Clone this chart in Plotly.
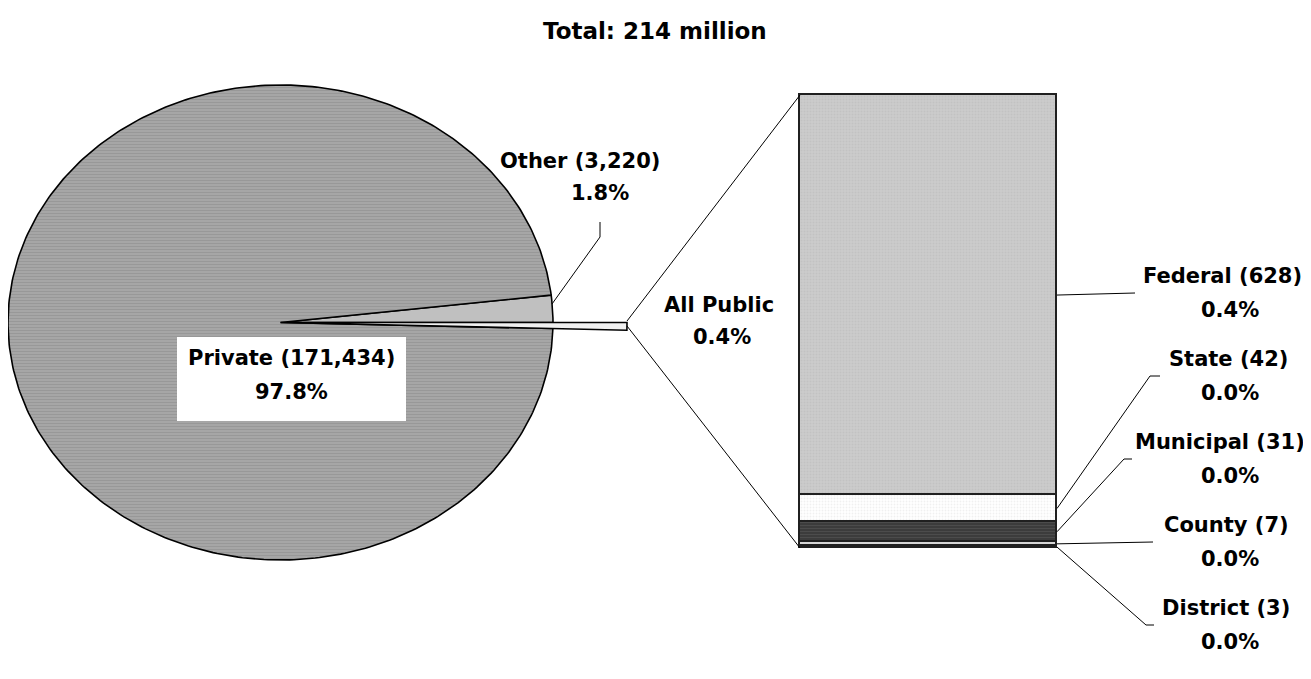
import numpy as np
import plotly.graph_objects as go

# ---------------- data ----------------
pie_names = ["Other", "Private", "All Public"]
pie_values = [3220, 171434, 711]          # thousands
bar_names = ["Federal", "State", "Municipal", "County", "District"]
bar_values = [628, 42, 31, 7, 3]
title_text = "Total: 214 million"

W, H = 1311, 679
OFF = 8           # page body margin in the browser
FONT = "DejaVu Sans"
FS = 21


def px(x, y):
    return (x - OFF) / W, 1 - (y - OFF) / H


# pie geometry (pixels): ellipse centre and radii
CX, CY, RX, RY = 280.5, 322.5, 272.5, 237.5
cxp, cyp = CX - OFF, CY - OFF
PIE_X_DOM = [0, 700 / W]
x_rng = [(0 - cxp) / RX, (700 - cxp) / RX]
y_rng = [(cyp - H) / RY, (cyp - 0) / RY]

total = sum(pie_values)
fracs = [v / total for v in pie_values]

fig = go.Figure()

styles = {
    "Private": dict(fillcolor="#a4a4a4", fillpattern=dict(shape="-", bgcolor="#a6a6a6", fgcolor="#8a8a8a", size=3, solidity=0.35)),
    "Other": dict(fillcolor="#c0c0c0"),
    "All Public": dict(fillcolor="#f0f0f0"),
}

start = 0.0
for name, f in zip(pie_names, fracs):
    a0 = start * 2 * np.pi
    a1 = (start + f) * 2 * np.pi
    start += f
    r = 1.0
    if name == "All Public":
        r = (627 - CX) / RX
    n = max(4, int(400 * f))
    th = np.linspace(a0, a1, n)
    xs = np.concatenate([[0], r * np.cos(th), [0]])
    ys = np.concatenate([[0], r * np.sin(th), [0]])
    kw = dict(fill="toself", line=dict(color="black", width=1.6))
    st = styles[name]
    if "fillpattern" in st:
        kw["fillpattern"] = st["fillpattern"]
    kw["fillcolor"] = st["fillcolor"]
    fig.add_trace(go.Scatter(x=xs, y=ys, mode="lines", hoverinfo="skip",
                             showlegend=False, xaxis="x", yaxis="y", **kw))

# ---------------- bar (stacked) ----------------
bar_styles = {
    "Federal": dict(color="#cbcbcb", pattern=dict(shape=".", bgcolor="#cbcbcb", fgcolor="#b9b9b9", size=3, solidity=0.3)),
    "State": dict(color="#ffffff", pattern=dict(shape=".", bgcolor="#ffffff", fgcolor="#e2e2e2", size=3, solidity=0.3)),
    "Municipal": dict(color="#404040", pattern=dict(shape="-", bgcolor="#3c3c3c", fgcolor="#5c5c5c", size=3, solidity=0.35)),
    "County": dict(color="#d6d6d6"),
    "District": dict(color="#909090"),
}
for name, v in reversed(list(zip(bar_names, bar_values))):
    st = bar_styles[name]
    marker = dict(color=st["color"], line=dict(color="#202020", width=1.6))
    if "pattern" in st:
        marker["pattern"] = st["pattern"]
    fig.add_trace(go.Bar(x=[0], y=[v], width=1, marker=marker, name=name,
                         showlegend=False, hoverinfo="skip", xaxis="x2", yaxis="y2"))

BX0, BX1, BY0, BY1 = 800, 1057, 95, 548
bar_total = sum(bar_values)
PAD = 3
bw, bh = BX1 - BX0, BY1 - BY0
xpad = PAD / bw
ypad = PAD / bh * bar_total

fig.update_layout(
    width=W, height=H, margin=dict(l=0, r=0, t=0, b=0),
    paper_bgcolor="white", plot_bgcolor="rgba(0,0,0,0)",
    barmode="stack", bargap=0,
    xaxis=dict(domain=PIE_X_DOM, range=x_rng, visible=False, fixedrange=True),
    yaxis=dict(domain=[0, 1], range=y_rng, visible=False, fixedrange=True),
    xaxis2=dict(domain=[(BX0 - OFF - PAD) / W, (BX1 - OFF + PAD) / W], range=[-0.5 - xpad, 0.5 + xpad],
                visible=False, anchor="y2"),
    yaxis2=dict(domain=[1 - (BY1 - OFF + PAD) / H, 1 - (BY0 - OFF - PAD) / H], range=[-ypad, bar_total + ypad],
                visible=False, anchor="x2"),
    font=dict(family=FONT, size=FS, color="black"),
)

shapes = []
annotations = []


def line(x0, y0, x1, y1, w=1):
    a = px(x0, y0)
    b = px(x1, y1)
    shapes.append(dict(type="line", xref="paper", yref="paper", x0=a[0], y0=a[1], x1=b[0], y1=b[1],
                       line=dict(color="black", width=w)))


def text(x, y, s, size=FS):
    p = px(x, y)
    annotations.append(dict(xref="paper", yref="paper", x=p[0], y=p[1], text=f"<b>{s}</b>",
                            showarrow=False, xanchor="center", yanchor="middle",
                            font=dict(family=FONT, size=size, color="black")))


# title
text(655, 31, title_text, 23)

# connectors from exploded slice to bar
line(627, 321, BX0, BY0)
line(627, 326, BX0, BY1)

# Private label with white box
p0 = px(177, 337)
p1 = px(406, 421)
shapes.append(dict(type="rect", xref="paper", yref="paper", x0=p0[0], y0=p1[1], x1=p1[0], y1=p0[1],
                   fillcolor="white", line=dict(width=0), layer="above"))
pct = [100 * f for f in fracs]
text(291, 358, f"{pie_names[1]} ({pie_values[1]:,})")
text(291, 392, f"{pct[1]:.1f}%")

# Other label
text(580, 161, f"{pie_names[0]} ({pie_values[0]:,})")
text(600, 193, f"{pct[0]:.1f}%")
line(600, 222, 600, 237)
line(600, 237, 552, 304)

# All Public label
text(719, 305, pie_names[2])
text(722, 337, f"{pct[2]:.1f}%")

# bar labels
bar_pct = [100 * v / total for v in bar_values]
label_y = [276, 359, 442, 525, 608]
label_x = [1222, 1228, 1220, 1226, 1226]
tick = [(1135, 1135), (1150, 1160), (1124, 1132), (1153, 1153), (1146, 1154)]
cum_below = np.cumsum(list(reversed(bar_values)))[::-1] - np.array(bar_values)
for i, (name, v) in enumerate(zip(bar_names, bar_values)):
    text(label_x[i], label_y[i], f"{name} ({v:,})")
    text(1230, label_y[i] + 34, f"{bar_pct[i]:.1f}%")
    mid = cum_below[i] + v / 2
    ys = BY1 - mid / bar_total * (BY1 - BY0)
    ym = label_y[i] + 17
    tx0, tx1 = tick[i]
    line(BX1, ys, tx0, ym)
    if tx1 > tx0:
        line(tx0, ym, tx1, ym)

fig.update_layout(shapes=shapes, annotations=annotations)
fig.write_html("out.html")
